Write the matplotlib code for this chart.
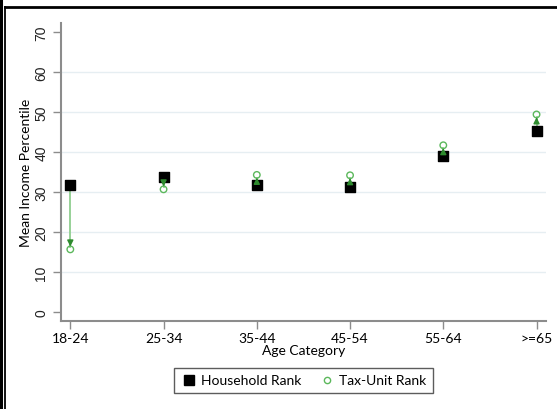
import matplotlib
matplotlib.use("Agg")
import matplotlib.pyplot as plt
from matplotlib.lines import Line2D

categories = ["18-24", "25-34", "35-44", "45-54", "55-64", ">=65"]
household = [31.9, 33.9, 31.8, 31.2, 39.0, 45.2]
tax_unit = [15.7, 30.7, 34.3, 34.2, 41.7, 49.4]
y_ticks = [0, 10, 20, 30, 40, 50, 60, 70]

fig = plt.figure(figsize=(5.57, 4.10), dpi=100)
ax = fig.add_axes([0.1095, 0.2146, 0.8705, 0.7264])

x = list(range(len(categories)))
axis_grey = "#8c8c8c"

for yt in y_ticks[1:-1]:
    ax.axhline(yt, color="#e6eef2", lw=1.0, zorder=0)

# arrows from household rank to tax-unit rank
for xi, h, t in zip(x, household, tax_unit):
    sgn = 1 if t > h else -1
    end = t - 0.7 * sgn
    ax.plot([xi, xi], [h, end], color="#8fce8f", lw=1.3, zorder=1)
    ax.annotate("", xy=(xi, end), xytext=(xi, end - 1.5 * sgn),
                arrowprops=dict(arrowstyle="-|>", color="#2e8b2e", lw=1.0,
                                mutation_scale=9, shrinkA=0, shrinkB=0),
                zorder=4)

ax.scatter(x, household, marker="s", s=55, color="black", zorder=3,
           label="Household Rank")
ax.scatter(x, tax_unit, marker="o", s=22, facecolors="none",
           edgecolors="#5cb85c", linewidths=1.0, zorder=3, label="Tax-Unit Rank")

ax.set_xlim(-0.1, 5.1)
ax.set_ylim(-2.2, 72.2)
ax.set_xticks(x)
ax.set_xticklabels(categories, fontsize=10, family="Lato")
ax.set_yticks(y_ticks)
ax.set_yticklabels([str(v) for v in y_ticks], rotation=90, va="center",
                   fontsize=10, family="Liberation Sans", color="#222222")

for side in ["top", "right"]:
    ax.spines[side].set_visible(False)
for side in ["left", "bottom"]:
    ax.spines[side].set_color(axis_grey)
    ax.spines[side].set_linewidth(1.5)
ax.tick_params(axis="both", color=axis_grey, length=6, width=1.0)
ax.tick_params(axis="x", pad=2)
ax.tick_params(axis="y", pad=3)

ax.set_xlabel("Age Category", fontsize=10, family="Lato", labelpad=0)
ax.set_ylabel("Mean Income Percentile", fontsize=10, family="Lato", labelpad=2)

handles = [
    Line2D([], [], marker="s", ls="", color="black", markersize=7),
    Line2D([], [], marker="o", ls="", markerfacecolor="none",
           markeredgecolor="#5cb85c", markersize=4.5),
]
leg = ax.legend(handles, ["Household Rank", "Tax-Unit Rank"], loc="upper center",
                bbox_to_anchor=(0.5, -0.135), ncol=2, frameon=True, fancybox=False,
                prop={"family": "Lato", "size": 10}, handletextpad=0.3,
                columnspacing=1.2, borderpad=0.45, handlelength=1.2)
leg.get_frame().set_edgecolor("#333333")
leg.get_frame().set_linewidth(1.0)

# outer frame seen in the source image
fig.add_artist(Line2D([1 / 557, 1 / 557], [0, 1], color="black", lw=2.2,
                      transform=fig.transFigure))
fig.add_artist(Line2D([4.5 / 557, 4.5 / 557], [0, 1 - 8 / 410], color="black", lw=1.3,
                      transform=fig.transFigure))
fig.add_artist(Line2D([4.5 / 557, 1], [1 - 8 / 410, 1 - 8 / 410], color="black", lw=2.0,
                      transform=fig.transFigure))

fig.savefig("out.png", dpi=100)
